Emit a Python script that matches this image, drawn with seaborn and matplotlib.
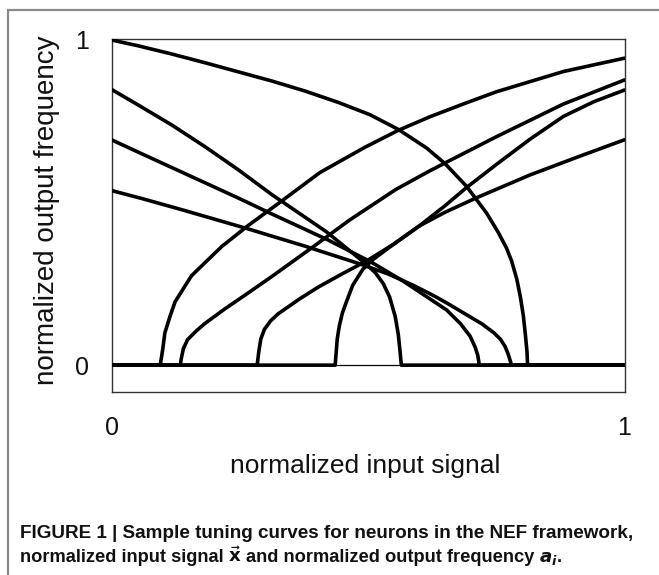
import numpy as np
import pandas as pd
import matplotlib
matplotlib.use("Agg")
import matplotlib.pyplot as plt
from matplotlib.lines import Line2D
import seaborn as sns

# ---- data (normalized input x, normalized output rate) ----
n1_x = [0.0, 0.052, 0.117, 0.182, 0.247, 0.312, 0.377, 0.442, 0.504, 0.559, 0.614, 0.650, 0.692, 0.731, 0.754, 0.770, 0.780, 0.790, 0.797, 0.803, 0.807, 0.810, 0.811, 1.0]
n1_y = [1.0, 0.982, 0.957, 0.930, 0.902, 0.874, 0.843, 0.808, 0.770, 0.725, 0.668, 0.620, 0.550, 0.468, 0.408, 0.360, 0.320, 0.265, 0.210, 0.150, 0.090, 0.040, 0.0, 0.0]

n2_x = [0.0, 0.052, 0.117, 0.182, 0.247, 0.312, 0.419, 0.497, 0.515, 0.530, 0.542, 0.553, 0.559, 0.562, 0.565, 1.0]
n2_y = [0.848, 0.800, 0.739, 0.672, 0.601, 0.525, 0.410, 0.310, 0.283, 0.250, 0.210, 0.150, 0.095, 0.050, 0.0, 0.0]

n3_x = [0.0, 0.052, 0.117, 0.182, 0.247, 0.311, 0.422, 0.505, 0.569, 0.610, 0.653, 0.680, 0.699, 0.709, 0.714, 0.717, 1.0]
n3_y = [0.693, 0.655, 0.608, 0.561, 0.514, 0.466, 0.385, 0.318, 0.258, 0.215, 0.170, 0.128, 0.089, 0.055, 0.030, 0.0, 0.0]

n4_x = [0.0, 0.060, 0.137, 0.262, 0.377, 0.481, 0.540, 0.589, 0.630, 0.657, 0.690, 0.722, 0.745, 0.758, 0.767, 0.773, 0.777, 0.780, 1.0]
n4_y = [0.537, 0.512, 0.478, 0.421, 0.366, 0.313, 0.280, 0.245, 0.212, 0.188, 0.157, 0.127, 0.100, 0.080, 0.058, 0.035, 0.015, 0.0, 0.0]

n5_x = [0.0, 0.095, 0.100, 0.104, 0.114, 0.124, 0.156, 0.215, 0.267, 0.332, 0.406, 0.494, 0.559, 0.621, 0.689, 0.751, 0.881, 1.0]
n5_y = [0.0, 0.0, 0.050, 0.099, 0.150, 0.195, 0.275, 0.365, 0.430, 0.505, 0.592, 0.670, 0.722, 0.764, 0.805, 0.841, 0.903, 0.944]

n6_x = [0.0, 0.134, 0.136, 0.140, 0.148, 0.165, 0.182, 0.220, 0.260, 0.312, 0.394, 0.463, 0.554, 0.621, 0.653, 0.751, 0.881, 1.0]
n6_y = [0.0, 0.0, 0.020, 0.050, 0.078, 0.105, 0.128, 0.172, 0.215, 0.272, 0.365, 0.445, 0.540, 0.598, 0.624, 0.703, 0.803, 0.877]

n7_x = [0.0, 0.284, 0.287, 0.291, 0.298, 0.310, 0.325, 0.366, 0.403, 0.450, 0.500, 0.550, 0.600, 0.650, 0.692, 0.751, 0.816, 0.881, 0.940, 1.0]
n7_y = [0.0, 0.0, 0.040, 0.080, 0.110, 0.136, 0.158, 0.203, 0.240, 0.281, 0.323, 0.372, 0.428, 0.490, 0.546, 0.618, 0.695, 0.765, 0.810, 0.846]

n8_x = [0.0, 0.436, 0.438, 0.440, 0.444, 0.450, 0.458, 0.470, 0.490, 0.510, 0.550, 0.600, 0.650, 0.712, 0.816, 0.917, 1.0]
n8_y = [0.0, 0.0, 0.040, 0.080, 0.120, 0.160, 0.195, 0.245, 0.295, 0.325, 0.372, 0.428, 0.470, 0.515, 0.585, 0.645, 0.693]

tick_vals = [0, 1]
tick_labels = ["0", "1"]
x_label = "normalized input signal"
y_label = "normalized output frequency"
caption_1 = "FIGURE 1 | Sample tuning curves for neurons in the NEF framework,"
caption_2_parts = ["normalized input signal", r"$\vec{\mathrm{x}}$",
                   "and normalized output frequency", r"$a_i$."]

curves = {
    "n1": (n1_x, n1_y), "n2": (n2_x, n2_y), "n3": (n3_x, n3_y), "n4": (n4_x, n4_y),
    "n5": (n5_x, n5_y), "n6": (n6_x, n6_y), "n7": (n7_x, n7_y), "n8": (n8_x, n8_y),
}
frames = []
for name, (xs, ys) in curves.items():
    frames.append(pd.DataFrame({"x": xs, "y": ys, "neuron": name}))
df = pd.concat(frames, ignore_index=True)

# ---- style ----
sns.set_theme(style="white")
plt.rcParams["font.family"] = ["Liberation Sans", "DejaVu Sans"]
plt.rcParams["mathtext.fontset"] = "custom"
plt.rcParams["mathtext.rm"] = "Liberation Sans Narrow:bold"
plt.rcParams["mathtext.it"] = "Liberation Sans Narrow:bold:italic"
plt.rcParams["mathtext.bf"] = "Liberation Sans Narrow:bold"

W, H = 659, 575
fig = plt.figure(figsize=(W / 100, H / 100), dpi=100)
fig.patch.set_facecolor("white")

ax_left, ax_right, ax_top, ax_bot = 111.5, 624.5, 39.3, 392.3
ax = fig.add_axes([ax_left / W, 1 - ax_bot / H, (ax_right - ax_left) / W, (ax_bot - ax_top) / H])

ax.axhline(0, color="black", lw=0.9, zorder=1)
sns.lineplot(data=df, x="x", y="y", units="neuron", estimator=None, sort=False,
             color="black", lw=2.6, ax=ax, zorder=3)

ax.set_xlim(0, 1)
ax.set_ylim(-0.0835, 1.002)
ax.set_xticks(tick_vals)
ax.set_xticklabels(tick_labels)
ax.set_yticks(tick_vals)
ax.set_yticklabels(tick_labels)
ax.tick_params(axis="both", length=0, labelsize=18, colors="#111111")
ax.tick_params(axis="y", pad=16)
ax.tick_params(axis="x", pad=17)
for s in ax.spines.values():
    s.set_color("#333333")
    s.set_linewidth(1.0)

ax.set_xlabel(x_label, fontsize=19, color="#111111")
ax.set_ylabel(y_label, fontsize=20, color="#111111")
ax.xaxis.set_label_coords(0.494, -0.175)
ax.yaxis.set_label_coords(-0.100, 0.516)

# caption
cap_family = ["Liberation Sans Narrow", "Liberation Sans", "DejaVu Sans"]
cap1_kw = dict(fontsize=13.55, fontweight="bold", family=cap_family, color="#111111")
cap2_kw = dict(fontsize=13.15, fontweight="bold", family=cap_family, color="#111111")
fig.text(20 / W, 1 - 538.5 / H, caption_1, **cap1_kw)

renderer = fig.canvas.get_renderer()
probe = fig.text(0, 0, "a a", **cap2_kw)
w_aa = probe.get_window_extent(renderer).width
probe.set_text("aa")
space_w = w_aa - probe.get_window_extent(renderer).width
probe.remove()

x_px = 20.0
y2 = 1 - 562 / H
for part in caption_2_parts:
    t = fig.text(x_px / W, y2, part, **cap2_kw)
    x_px += t.get_window_extent(renderer).width + space_w * 0.9

# frame lines (top and left)
fig.add_artist(Line2D([8 / W, 1], [1 - 10 / H, 1 - 10 / H], color="#8a8a8a", lw=1.6))
fig.add_artist(Line2D([8 / W, 8 / W], [0, 1 - 10 / H], color="#8a8a8a", lw=1.6))

fig.savefig("out.png", dpi=100, facecolor="white")
